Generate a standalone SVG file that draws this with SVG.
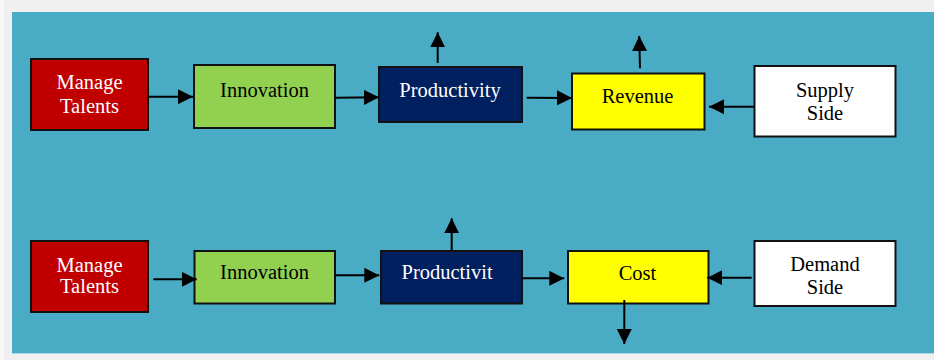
<svg xmlns="http://www.w3.org/2000/svg" width="934" height="360" viewBox="0 0 934 360">
  <defs>
    <marker id="head" viewBox="0 0 15 15" refX="15" refY="7.5" markerWidth="15" markerHeight="15" markerUnits="userSpaceOnUse" orient="auto">
      <path d="M0,0 L15,7.5 L0,15 Z" fill="#000"/>
    </marker>
    <style>
      .box { stroke: #111; stroke-width: 2; }
      .lbl { font-family: "Liberation Serif", "Times New Roman", serif; font-size: 20.5px; }
      .light { fill: #ffffff; }
      .dark { fill: #000000; }
      .link { stroke: #000; stroke-width: 2; fill: none; marker-end: url(#head); }
    </style>
  </defs>

  <!-- page and panel -->
  <rect x="0" y="0" width="934" height="360" fill="#f0f0f0"/>
  <rect x="0" y="0" width="4" height="360" fill="#f8f8f8"/>
  <rect x="12" y="12" width="922" height="342" fill="#4aabc5"/>
  <rect x="12" y="353" width="922" height="1" fill="#a8d8e6"/>

  <!-- supply chain (top row) -->
  <g id="talents-top">
    <rect class="box" x="31" y="59" width="117" height="71" fill="#c00000"/>
    <text class="lbl light" x="89.5" y="89" text-anchor="middle">Manage</text>
    <text class="lbl light" x="89.5" y="113" text-anchor="middle">Talents</text>
  </g>
  <g id="innovation-top">
    <rect class="box" x="194" y="65" width="141" height="63" fill="#92d050"/>
    <text class="lbl dark" x="264.5" y="97" text-anchor="middle">Innovation</text>
  </g>
  <g id="productivity-top">
    <rect class="box" x="379" y="67" width="143" height="55" fill="#002060"/>
    <text class="lbl light" x="450" y="97.3" text-anchor="middle">Productivity</text>
  </g>
  <g id="revenue">
    <rect class="box" x="572" y="73.5" width="132.5" height="56" fill="#ffff00"/>
    <text class="lbl dark" x="637.5" y="103.3" text-anchor="middle">Revenue</text>
  </g>
  <g id="supply-side">
    <rect class="box" x="754.5" y="66" width="141" height="70.5" fill="#ffffff"/>
    <text class="lbl dark" x="825" y="96.7" text-anchor="middle">Supply</text>
    <text class="lbl dark" x="825" y="120" text-anchor="middle">Side</text>
  </g>

  <!-- demand chain (bottom row) -->
  <g id="talents-bottom">
    <rect class="box" x="31" y="241" width="117" height="71" fill="#c00000"/>
    <text class="lbl light" x="89.5" y="271.7" text-anchor="middle">Manage</text>
    <text class="lbl light" x="89.5" y="293.3" text-anchor="middle">Talents</text>
  </g>
  <g id="innovation-bottom">
    <rect class="box" x="194.5" y="251" width="140.5" height="52.5" fill="#92d050"/>
    <text class="lbl dark" x="264.5" y="279.3" text-anchor="middle">Innovation</text>
  </g>
  <g id="productivity-bottom">
    <rect class="box" x="381" y="251" width="141" height="52.5" fill="#002060"/>
    <text class="lbl light" x="401.5" y="279.3">Productivit</text>
  </g>
  <g id="cost">
    <rect class="box" x="568" y="251" width="140.5" height="52.5" fill="#ffff00"/>
    <text class="lbl dark" x="637.5" y="280" text-anchor="middle">Cost</text>
  </g>
  <g id="demand-side">
    <rect class="box" x="754.5" y="241" width="141" height="65" fill="#ffffff"/>
    <text class="lbl dark" x="825" y="271" text-anchor="middle">Demand</text>
    <text class="lbl dark" x="825" y="294" text-anchor="middle">Side</text>
  </g>

  <!-- connectors -->
  <g id="connectors">
    <line class="link" x1="148" y1="96.7" x2="193" y2="96.7"/>
    <line class="link" x1="335" y1="97.7" x2="379" y2="97.3"/>
    <line class="link" x1="437.7" y1="63" x2="437.7" y2="32.3"/>
    <line class="link" x1="526.7" y1="97.7" x2="572" y2="97.9"/>
    <line class="link" x1="640" y1="68.3" x2="639.2" y2="36"/>
    <line class="link" x1="754" y1="106.7" x2="709" y2="106.7"/>

    <line class="link" x1="153.3" y1="279.3" x2="196.7" y2="279.3"/>
    <line class="link" x1="335" y1="275.3" x2="379.3" y2="275.3"/>
    <line class="link" x1="451.7" y1="250" x2="451.7" y2="218.3"/>
    <line class="link" x1="522" y1="278.3" x2="564.3" y2="278.3"/>
    <line class="link" x1="624.3" y1="300" x2="624.3" y2="344"/>
    <line class="link" x1="751.7" y1="277.7" x2="707.3" y2="277.7"/>
  </g>
</svg>
